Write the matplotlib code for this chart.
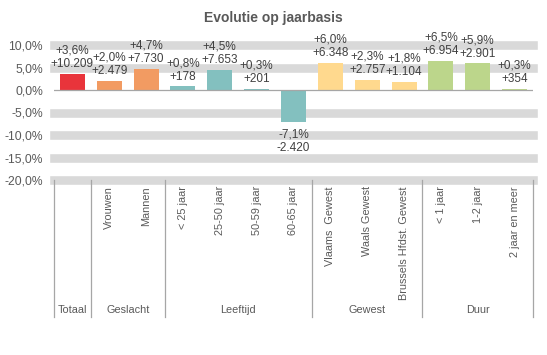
import matplotlib
matplotlib.use("Agg")
import matplotlib.pyplot as plt
import matplotlib.transforms as mtransforms

plt.rcParams['font.family'] = ['Liberation Sans', 'DejaVu Sans']

categories = ["", "Vrouwen", "Mannen", "< 25 jaar", "25-50 jaar", "50-59 jaar", "60-65 jaar",
              "Vlaams  Gewest", "Waals Gewest", "Brussels Hfdst. Gewest",
              "< 1 jaar", "1-2 jaar", "2 jaar en meer"]
pct = [3.6, 2.0, 4.7, 0.8, 4.5, 0.3, -7.1, 6.0, 2.3, 1.8, 6.5, 5.9, 0.3]
counts = [10209, 2479, 7730, 178, 7653, 201, -2420, 6348, 2757, 1104, 6954, 2901, 354]
groups = ["Totaal", "Geslacht", "Leeftijd", "Gewest", "Duur"]
group_sizes = [1, 2, 4, 3, 3]
group_colors = ["#E9343B", "#F29B62", "#83C0BF", "#FFD98E", "#BCD68B"]
yticks = [10, 5, 0, -5, -10, -15, -20]

colors = []
for c, n in zip(group_colors, group_sizes):
    colors += [c] * n

fig = plt.figure(figsize=(5.47, 3.55), dpi=100)
ax = fig.add_axes([54/547, 175/355, 479/547, 135/355])

x = list(range(len(pct)))
ax.set_xlim(-0.5, len(pct) - 0.5)
ax.set_ylim(-20, 10)

for t in yticks:
    if t != 0:
        ax.axhline(t, color="#D9D9D9", lw=6.2, zorder=0, clip_on=False)
ax.axhline(0, color="#A6A6A6", lw=0.9, zorder=3)

ax.bar(x, pct, width=0.68, color=colors, zorder=2)

def fmt_pct(v):
    return f"{v:+.1f}%".replace(".", ",")

def fmt_cnt(v):
    s = f"{abs(v):,}".replace(",", ".")
    return ("+" if v >= 0 else "-") + s

for xi, p, c in zip(x, pct, counts):
    txt = fmt_pct(p) + "\n" + fmt_cnt(c)
    if p >= 0:
        ax.annotate(txt, (xi, p), xytext=(0, 2.8), textcoords="offset points",
                    ha="center", va="bottom", fontsize=8.5, color="#404040",
                    linespacing=1.15, zorder=5)
    else:
        ax.annotate(txt, (xi, p), xytext=(0, -5), textcoords="offset points",
                    ha="center", va="top", fontsize=8.5, color="#404040",
                    linespacing=1.15, zorder=5)

ax.set_yticks(yticks)
ax.set_yticklabels([f"{t:.1f}%".replace(".", ",") for t in yticks], fontsize=8.7, color="#595959")
ax.tick_params(axis="y", length=0, pad=8)
ax.set_xticks([])
for s in ax.spines.values():
    s.set_visible(False)

trans = mtransforms.blended_transform_factory(ax.transData, ax.transAxes)
for xi, lab in zip(x, categories):
    if lab:
        ax.text(xi, -0.045, lab, rotation=90, ha="center", va="top", fontsize=7.8,
                color="#595959", transform=trans, clip_on=False)
start = 0
bounds = [0]
for g, n in zip(groups, group_sizes):
    ax.text(start + n / 2 - 0.5, -0.963, g, ha="center", va="center", fontsize=7.8,
            color="#595959", transform=trans, clip_on=False)
    start += n
    bounds.append(start)
for b in bounds:
    ax.plot([b - 0.5, b - 0.5], [0, -1.015], color="#A6A6A6", lw=0.9,
            transform=trans, clip_on=False)

fig.text(0.5, 0.948, "Evolutie op jaarbasis", ha="center", va="center",
         fontsize=10, fontweight="bold", color="#595959")

fig.savefig("out.png", dpi=100, facecolor="white")
